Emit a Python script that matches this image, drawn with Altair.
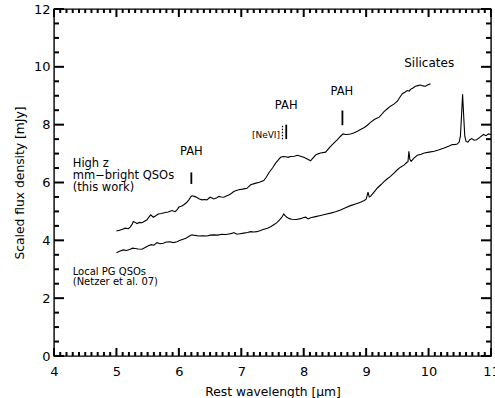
import altair as alt
import pandas as pd

# ---- spectra ----
hz_wave = [5.00, 5.05, 5.10, 5.14, 5.19, 5.22, 5.25, 5.27, 5.30, 5.33, 5.37, 5.41, 5.45, 5.49,
           5.52, 5.55, 5.59, 5.63, 5.67, 5.72, 5.78, 5.83, 5.89, 5.94, 5.97, 6.00, 6.04, 6.08,
           6.12, 6.16, 6.19, 6.21, 6.25, 6.29, 6.33, 6.37, 6.41, 6.45, 6.50, 6.53, 6.56, 6.60,
           6.64, 6.68, 6.72, 6.76, 6.80, 6.84, 6.88, 6.92, 6.96, 7.02, 7.09, 7.15, 7.22, 7.29,
           7.36, 7.40, 7.44, 7.50, 7.55, 7.60, 7.63, 7.67, 7.71, 7.75, 7.79, 7.85, 7.90, 7.95,
           8.00, 8.05, 8.11, 8.15, 8.19, 8.23, 8.27, 8.35, 8.43, 8.49, 8.54, 8.59, 8.63, 8.67,
           8.70, 8.75, 8.80, 8.86, 8.91, 8.97, 9.02, 9.07, 9.13, 9.17, 9.21, 9.25, 9.29, 9.34,
           9.39, 9.45, 9.50, 9.54, 9.58, 9.62, 9.66, 9.69, 9.71, 9.75, 9.79, 9.83, 9.87, 9.91,
           9.95, 9.99, 10.03]
hz_flux = [4.32, 4.35, 4.38, 4.42, 4.40, 4.46, 4.55, 4.65, 4.62, 4.58, 4.62, 4.61, 4.66, 4.71,
           4.80, 4.88, 4.80, 4.85, 4.91, 4.93, 4.96, 4.98, 5.03, 4.99, 5.05, 5.15, 5.18, 5.23,
           5.30, 5.40, 5.50, 5.54, 5.52, 5.48, 5.43, 5.40, 5.41, 5.40, 5.49, 5.46, 5.43, 5.46,
           5.52, 5.50, 5.49, 5.53, 5.57, 5.62, 5.69, 5.72, 5.75, 5.77, 5.80, 5.92, 5.97, 6.01,
           6.07, 6.18, 6.33, 6.50, 6.67, 6.80, 6.87, 6.90, 6.89, 6.87, 6.90, 6.91, 6.94, 6.91,
           6.87, 6.82, 6.75, 6.85, 6.95, 6.99, 7.02, 7.05, 7.25, 7.38, 7.48, 7.60, 7.68, 7.66,
           7.66, 7.68, 7.71, 7.77, 7.83, 7.90, 7.98, 8.08, 8.18, 8.22, 8.26, 8.36, 8.46, 8.55,
           8.64, 8.72, 8.81, 8.95, 9.07, 9.12, 9.18, 9.16, 9.22, 9.27, 9.33, 9.35, 9.37, 9.34,
           9.33, 9.38, 9.41]

pg_wave = [5.00, 5.05, 5.11, 5.16, 5.22, 5.26, 5.30, 5.35, 5.41, 5.46, 5.51, 5.56, 5.60, 5.65,
           5.70, 5.75, 5.80, 5.86, 5.91, 5.97, 6.02, 6.07, 6.12, 6.17, 6.21, 6.26, 6.32, 6.38,
           6.45, 6.50, 6.56, 6.62, 6.69, 6.75, 6.80, 6.85, 6.88, 6.93, 6.98, 7.04, 7.10, 7.15,
           7.20, 7.25, 7.31, 7.36, 7.42, 7.47, 7.52, 7.57, 7.61, 7.65, 7.68, 7.71, 7.73, 7.77,
           7.81, 7.88, 7.95, 8.00, 8.03, 8.07, 8.11, 8.19, 8.27, 8.35, 8.43, 8.51, 8.59, 8.67,
           8.75, 8.83, 8.91, 8.97, 9.00, 9.03, 9.05, 9.07, 9.12, 9.18, 9.24, 9.29, 9.34, 9.39,
           9.45, 9.50, 9.55, 9.61, 9.65, 9.67, 9.685, 9.70, 9.72, 9.77, 9.82, 9.88, 9.93, 10.01,
           10.09, 10.17, 10.25, 10.32, 10.38, 10.43, 10.46, 10.49, 10.51, 10.53, 10.545, 10.56,
           10.58, 10.60, 10.63, 10.66, 10.69, 10.73, 10.77, 10.82, 10.88, 10.92, 10.96, 11.00]
pg_flux = [3.57, 3.62, 3.67, 3.65, 3.69, 3.73, 3.72, 3.70, 3.69, 3.75, 3.81, 3.85, 3.83, 3.92,
           3.88, 3.90, 3.94, 3.95, 3.92, 3.95, 4.00, 4.04, 4.08, 4.15, 4.19, 4.17, 4.15, 4.16,
           4.15, 4.18, 4.19, 4.18, 4.21, 4.20, 4.22, 4.24, 4.27, 4.21, 4.23, 4.25, 4.27, 4.30,
           4.29, 4.30, 4.34, 4.38, 4.42, 4.47, 4.54, 4.61, 4.70, 4.80, 4.91, 4.84, 4.80, 4.75,
           4.73, 4.72, 4.75, 4.79, 4.80, 4.74, 4.78, 4.82, 4.86, 4.90, 4.94, 4.99, 5.05, 5.13,
           5.20, 5.26, 5.32, 5.38, 5.42, 5.67, 5.50, 5.52, 5.65, 5.81, 5.93, 6.04, 6.13, 6.21,
           6.33, 6.44, 6.53, 6.61, 6.69, 6.72, 7.08, 6.80, 6.73, 6.85, 6.94, 6.98, 7.02, 7.05,
           7.08, 7.13, 7.19, 7.25, 7.31, 7.32, 7.33, 7.40, 7.60, 8.40, 9.05, 8.40,
           7.60, 7.42, 7.40, 7.48, 7.52, 7.46, 7.48, 7.56, 7.66, 7.62, 7.68, 7.66]

# ---- axes ticks ----
x_major = [4, 5, 6, 7, 8, 9, 10, 11]
x_minor = [round(4 + 0.1 * i, 1) for i in range(71) if i % 10]
y_major = [0, 2, 4, 6, 8, 10, 12]
y_minor = [0.5 * i for i in range(25) if i % 4]

# ---- annotations ----
left_text = ["High z", "mm\u2212bright QSOs", "(this work)", "Local PG QSOs", "(Netzer et al. 07)"]
left_x = [4.30, 4.30, 4.30, 4.30, 4.30]
left_y = [6.63, 6.22, 5.81, 2.91, 2.56]
left_size = [11.5, 11.5, 11.5, 10, 10]

center_text = ["PAH", "PAH", "PAH", "Silicates"]
center_x = [6.20, 7.72, 8.61, 10.01]
center_y = [7.05, 8.63, 9.13, 10.14]
center_size = [11.5, 11.5, 11.5, 12]

nevi_text = ["[NeVI]"]
nevi_x = [7.62]
nevi_y = [7.63]

bar_x = [6.20, 7.72, 8.62]
bar_y = [5.95, 7.50, 7.98]
bar_y2 = [6.35, 8.00, 8.49]

dot_x = [7.66]
dot_y = [7.50]
dot_y2 = [8.00]

FONT = "DejaVu Sans"
W, H = 437, 347
XS = alt.Scale(domain=[4, 11], nice=False, zero=False)
YS = alt.Scale(domain=[0, 12], nice=False, zero=False)

lab = dict(ticks=False, tickSize=0, domain=False, grid=False,
           labelFont=FONT, labelFontSize=13, labelColor="black",
           labelFlush=False, labelOverlap=False, format="d",
           titleFont=FONT, titleFontSize=12.3, titleFontWeight="normal", titleColor="black")

hz = pd.DataFrame({"w": hz_wave, "f": hz_flux})
pg = pd.DataFrame({"w": pg_wave, "f": pg_flux})

l1 = alt.Chart(hz).mark_line(color="black", strokeWidth=1.1, clip=True).encode(
    x=alt.X("w:Q", scale=XS,
            axis=alt.Axis(values=x_major, title="Rest wavelength [\u03bcm]",
                          labelPadding=9, titlePadding=7, **lab)),
    y=alt.Y("f:Q", scale=YS,
            axis=alt.Axis(values=y_major, title="Scaled flux density [mJy]",
                          labelPadding=4, titlePadding=7, **lab)),
)

l2 = alt.Chart(pg).mark_line(color="black", strokeWidth=1.1, clip=True).encode(
    x=alt.X("w:Q", scale=XS),
    y=alt.Y("f:Q", scale=YS),
)


# IDL-style inward ticks on all four edges
def xticks(vals, length, top):
    return alt.Chart(pd.DataFrame({"w": vals})).mark_rule(color="black", strokeWidth=2).encode(
        x=alt.X("w:Q", scale=XS),
        y=alt.value(0 if top else H),
        y2=alt.value(length if top else H - length),
    )


def yticks(vals, length, right):
    return alt.Chart(pd.DataFrame({"f": vals})).mark_rule(color="black", strokeWidth=2).encode(
        y=alt.Y("f:Q", scale=YS),
        x=alt.value(W if right else 0),
        x2=alt.value(W - length if right else length),
    )


tick_layers = [
    xticks(x_major, 8, False), xticks(x_minor, 4, False),
    xticks(x_major, 8, True), xticks(x_minor, 4, True),
    yticks(y_major, 10, False), yticks(y_minor, 5, False),
    yticks(y_major, 10, True), yticks(y_minor, 5, True),
]

bars = pd.DataFrame({"w": bar_x, "f": bar_y, "f2": bar_y2})
l3 = alt.Chart(bars).mark_rule(color="black", strokeWidth=1.8).encode(
    x=alt.X("w:Q", scale=XS), y=alt.Y("f:Q", scale=YS), y2="f2:Q",
)

dots = pd.DataFrame({"w": dot_x, "f": dot_y, "f2": dot_y2})
l5 = alt.Chart(dots).mark_rule(color="black", strokeWidth=1.3, strokeDash=[1.5, 1.5]).encode(
    x=alt.X("w:Q", scale=XS), y=alt.Y("f:Q", scale=YS), y2="f2:Q",
)

left_df = pd.DataFrame({"w": left_x, "f": left_y, "t": left_text, "s": left_size})
l4 = alt.Chart(left_df).mark_text(align="left", baseline="middle", font=FONT, color="black").encode(
    x=alt.X("w:Q", scale=XS), y=alt.Y("f:Q", scale=YS),
    text="t:N", size=alt.Size("s:Q", scale=None, legend=None),
)

center_df = pd.DataFrame({"w": center_x, "f": center_y, "t": center_text, "s": center_size})
l6 = alt.Chart(center_df).mark_text(align="center", baseline="middle", font=FONT, color="black").encode(
    x=alt.X("w:Q", scale=XS), y=alt.Y("f:Q", scale=YS),
    text="t:N", size=alt.Size("s:Q", scale=None, legend=None),
)

nevi_df = pd.DataFrame({"w": nevi_x, "f": nevi_y, "t": nevi_text})
l7 = alt.Chart(nevi_df).mark_text(align="right", baseline="middle", font=FONT, color="black",
                                  fontSize=9).encode(
    x=alt.X("w:Q", scale=XS), y=alt.Y("f:Q", scale=YS), text="t:N",
)

chart = alt.layer(l1, l2, *tick_layers, l3, l5, l4, l6, l7).properties(
    width=W, height=H,
    autosize=alt.AutoSizeParams(type="none"),
    padding={"left": 54, "top": 9, "right": 4, "bottom": 42},
    background="white",
).configure_view(stroke="black", strokeWidth=1.4)

chart.save("out.html", embed_options={"renderer": "svg", "actions": False})
